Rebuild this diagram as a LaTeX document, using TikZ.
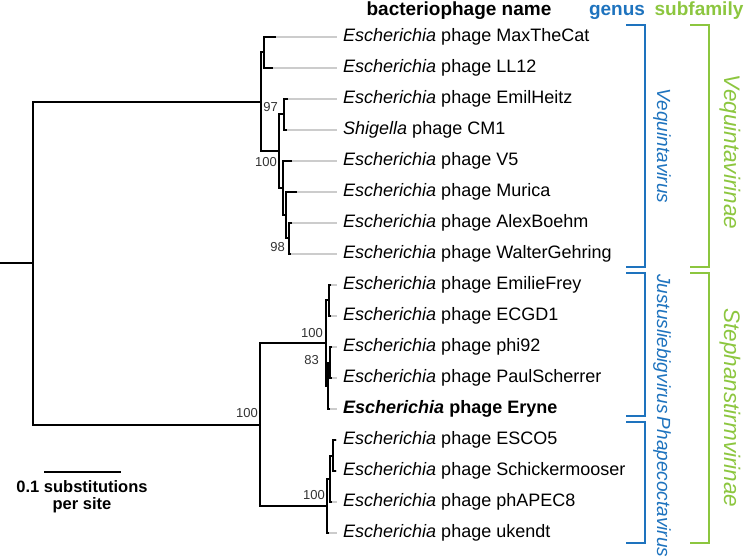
\documentclass[tikz,border=0pt]{standalone}
\usepackage{fontspec}
\setmainfont{Liberation Sans}
\usetikzlibrary{positioning}

\begin{document}
\begin{tikzpicture}[
  x=1pt, y=-1pt,
  branch/.style={line width=2pt, line join=miter},
  guide/.style={line width=1.4pt, draw=black!20},
  leaf/.style={anchor=west, inner xsep=6pt, inner ysep=0pt, text height=13pt, text depth=4pt, font=\fontsize{18}{20}\selectfont},
  boot/.style={anchor=east, inner sep=0pt, text=black!80, font=\fontsize{13}{14}\selectfont},
  head/.style={inner sep=0pt, text height=13.5pt, text depth=0pt, font=\bfseries\fontsize{19}{21}\selectfont},
  genus/.style={rotate=-90, text=gblue, font=\itshape\fontsize{19}{21}\selectfont},
  subfam/.style={rotate=-90, text=sgreen, font=\itshape\fontsize{22.5}{24}\selectfont},
  genusbar/.style={line width=2.5pt, draw=gblue},
  subfambar/.style={line width=2.5pt, draw=sgreen}
]

\definecolor{gblue}{RGB}{30,115,190}
\definecolor{sgreen}{RGB}{140,198,63}

\useasboundingbox (0,0) rectangle (745,556);

% column headers
\node[head] (hname) at (459,9) {bacteriophage name};
\node[head, text=gblue] (hgenus) at (617,9) {genus};
\node[head, text=sgreen] (hsub) at (699,9) {subfamily};

% leaf tips
\coordinate (t1) at (276,37);
\coordinate (t2) at (273,68);
\coordinate (t3) at (288,99);
\coordinate (t4) at (287,130);
\coordinate (t5) at (292,161);
\coordinate (t6) at (297,192);
\coordinate (t7) at (292,223);
\coordinate (t8) at (291,254);
\coordinate (t9) at (331,285);
\coordinate (t10) at (331,316);
\coordinate (t11) at (332,347);
\coordinate (t12) at (332,378);
\coordinate (t13) at (330,409);
\coordinate (t14) at (336,440);
\coordinate (t15) at (336,471);
\coordinate (t16) at (332,502);
\coordinate (t17) at (329,533);

% leaf names
\node[leaf] (l1) at (337,37) {\textit{Escherichia} phage MaxTheCat};
\node[leaf] (l2) at (337,68) {\textit{Escherichia} phage LL12};
\node[leaf] (l3) at (337,99) {\textit{Escherichia} phage EmilHeitz};
\node[leaf] (l4) at (337,130) {\textit{Shigella} phage CM1};
\node[leaf] (l5) at (337,161) {\textit{Escherichia} phage V5};
\node[leaf] (l6) at (337,192) {\textit{Escherichia} phage Murica};
\node[leaf] (l7) at (337,223) {\textit{Escherichia} phage AlexBoehm};
\node[leaf] (l8) at (337,254) {\textit{Escherichia} phage WalterGehring};
\node[leaf] (l9) at (337,285) {\textit{Escherichia} phage EmilieFrey};
\node[leaf] (l10) at (337,316) {\textit{Escherichia} phage ECGD1};
\node[leaf] (l11) at (337,347) {\textit{Escherichia} phage phi92};
\node[leaf] (l12) at (337,378) {\textit{Escherichia} phage PaulScherrer};
\node[leaf] (l13) at (337,409) {\textbf{\textit{Escherichia} phage Eryne}};
\node[leaf] (l14) at (337,440) {\textit{Escherichia} phage ESCO5};
\node[leaf] (l15) at (337,471) {\textit{Escherichia} phage Schickermooser};
\node[leaf] (l16) at (337,502) {\textit{Escherichia} phage phAPEC8};
\node[leaf] (l17) at (337,533) {\textit{Escherichia} phage ukendt};

\foreach \i in {1,...,17}
  \draw[guide] (t\i) -- (l\i.west);

% inner nodes
\coordinate (root) at (0,263);
\coordinate (T) at (33,263);
\coordinate (U) at (261,102);
\coordinate (M) at (264,52.5);
\coordinate (N) at (279,151);
\coordinate (P) at (284,114.5);
\coordinate (Q) at (283,188);
\coordinate (S) at (286,215);
\coordinate (R) at (289,238.5);
\coordinate (L) at (260,424.5);
\coordinate (J) at (326,343);
\coordinate (J1) at (329,300.5);
\coordinate (J3) at (328,386);
\coordinate (J2) at (330,362.5);
\coordinate (K) at (327,506);
\coordinate (K2) at (330,479);
\coordinate (K1) at (333,455.5);

% Vequintavirus clade
\draw[branch] (root) -- (T);
\draw[branch] (U) -| (T) |- (L);
\draw[branch] (M) -| (U) |- (N);
\draw[branch] (t1) -| (M) |- (t2);
\draw[branch] (P) -| (N) |- (Q);
\draw[branch] (t3) -| (P) |- (t4);
\draw[branch] (t5) -| (Q) |- (S);
\draw[branch] (t6) -| (S) |- (R);
\draw[branch] (t7) -| (R) |- (t8);

% Stephanstirmvirinae clade
\draw[branch] (J) -| (L) |- (K);
\draw[branch] (J1) -| (J) |- (J3);
\draw[branch] (t9) -| (J1) |- (t10);
\draw[branch] (J2) -| (J3) |- (t13);
\draw[branch] (t11) -| (J2) |- (t12);
\draw[branch] (K2) -| (K) |- (t17);
\draw[branch] (K1) -| (K2) |- (t16);
\draw[branch] (t14) -| (K1) |- (t15);

% bootstrap values
\node[boot] (b97) at (278,107) {97};
\node[boot] (b100a) at (277,162) {100};
\node[boot] (b98) at (285,247) {98};
\node[boot] (b100b) at (258,413) {100};
\node[boot] (b100c) at (323,333) {100};
\node[boot] (b83) at (319,360) {83};
\node[boot] (b100d) at (325,495) {100};

% genus brackets
\draw[genusbar] (626,25) -- (645,25) -- (645,267) -- (626,267);
\draw[genusbar] (626,273) -- (645,273) -- (645,416) -- (626,416);
\draw[genusbar] (626,422) -- (645,422) -- (645,543) -- (626,543);
\node[genus] (g1) at (662,146) {Vequintavirus};
\node[genus] (g2) at (662,344) {Justusliebigvirus};
\node[genus] (g3) at (662,487) {Phapecoctavirus};

% subfamily brackets
\draw[subfambar] (690,25) -- (709,25) -- (709,267) -- (690,267);
\draw[subfambar] (690,273) -- (709,273) -- (709,543) -- (690,543);
\node[subfam] (s1) at (730,152) {Vequintavirinae};
\node[subfam] (s2) at (730,408) {Stephanstirmvirinae};

% scale bar
\coordinate (sb1) at (44,472);
\coordinate (sb2) at (121,472);
\draw[branch] (sb1) -- (sb2);
\node[align=center, anchor=north, inner sep=0pt, font=\bfseries\fontsize{16.5}{17}\selectfont] (sbl) at (82,480) {0.1 substitutions\\per site};

\end{tikzpicture}
\end{document}
